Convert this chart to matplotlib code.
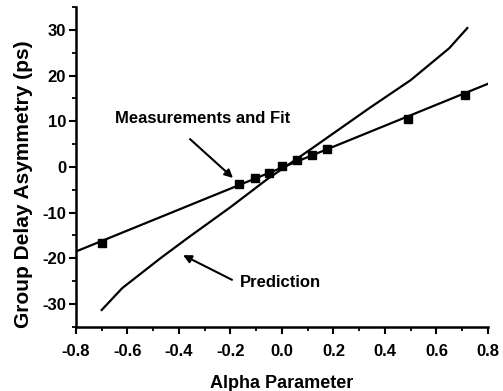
import matplotlib
matplotlib.use("Agg")
import matplotlib.pyplot as plt
from matplotlib.ticker import MultipleLocator, FormatStrFormatter

plt.rcParams['font.family'] = ['Liberation Sans', 'DejaVu Sans']
plt.rcParams['font.weight'] = 'bold'
plt.rcParams['axes.unicode_minus'] = False

# Measured data
meas_x = [-0.70, -0.165, -0.105, -0.05, 0.0, 0.06, 0.115, 0.175, 0.49, 0.71]
meas_y = [-16.6, -3.8, -2.5, -1.3, 0.2, 1.6, 2.6, 4.0, 10.6, 15.8]

# Linear fit line endpoints
fit_x = [-0.8, 0.8]
fit_y = [-18.5, 18.2]

# Prediction curve
pred_x = [-0.70, -0.62, -0.47, -0.36, -0.20, -0.06, 0.12, 0.34, 0.50, 0.65, 0.72]
pred_y = [-31.3, -26.5, -19.9, -15.3, -8.8, -2.8, 4.2, 12.9, 19.0, 26.0, 30.4]

fig = plt.figure(figsize=(5.03, 3.91), dpi=100)
ax = fig.add_axes([0.151, 0.164, 0.819, 0.818])

ax.plot(fit_x, fit_y, color='black', lw=1.6)
ax.plot(meas_x, meas_y, linestyle='none', marker='s', markersize=5.5, color='black')
ax.plot(pred_x, pred_y, color='black', lw=1.6)

ax.set_xlim(-0.8, 0.8)
ax.set_ylim(-35, 35)
ax.xaxis.set_major_locator(MultipleLocator(0.2))
ax.xaxis.set_minor_locator(MultipleLocator(0.1))
ax.xaxis.set_major_formatter(FormatStrFormatter('%.1f'))
ax.yaxis.set_major_locator(MultipleLocator(10))
ax.yaxis.set_minor_locator(MultipleLocator(5))

for s in ['top', 'right']:
    ax.spines[s].set_visible(False)
for s in ['left', 'bottom']:
    ax.spines[s].set_linewidth(1.8)

ax.tick_params(which='major', direction='out', length=5, width=1.5, labelsize=12, pad=2)
ax.tick_params(axis='x', which='major', pad=7)
ax.tick_params(which='minor', direction='out', length=3, width=1.3)
for lab in ax.get_xticklabels() + ax.get_yticklabels():
    lab.set_fontweight('bold')

ax.set_xlabel('Alpha Parameter', fontsize=13, fontweight='bold')
ax.set_ylabel('Group Delay Asymmetry (ps)', fontsize=15, fontweight='bold')
ax.xaxis.set_label_coords(0.5, -0.152)
ax.yaxis.set_label_coords(-0.105, 0.445)

ax.text(-0.649, 10.5, 'Measurements and Fit', fontsize=12, fontweight='bold', va='center', ha='left')
ax.annotate('', xy=(-0.19, -2.4), xytext=(-0.357, 6.1),
            arrowprops=dict(arrowstyle='-|>', color='black', lw=1.5,
                            mutation_scale=12, shrinkA=0, shrinkB=0))
ax.annotate('', xy=(-0.384, -19.3), xytext=(-0.194, -24.7),
            arrowprops=dict(arrowstyle='-|>', color='black', lw=1.5,
                            mutation_scale=12, shrinkA=0, shrinkB=0))
ax.text(-0.163, -25.2, 'Prediction', fontsize=12, fontweight='bold', va='center', ha='left')

fig.savefig('out.png', dpi=100)
